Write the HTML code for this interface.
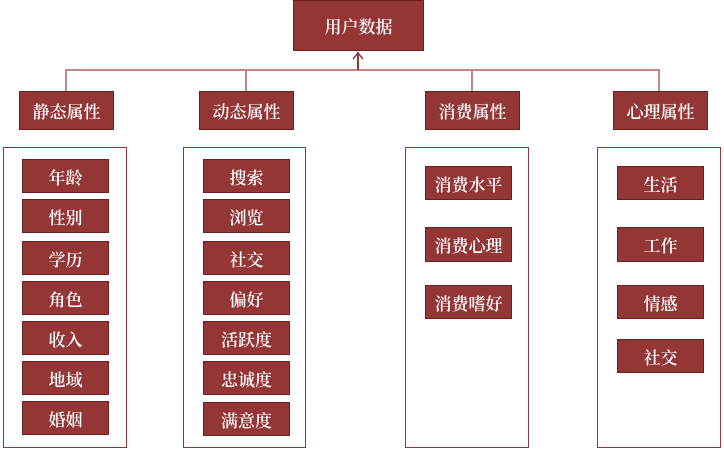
<!DOCTYPE html>
<html><head><meta charset="utf-8"><style>
body{margin:0;width:724px;height:455px;background:#fff;position:relative;overflow:hidden;font-family:"Liberation Serif","Noto Serif CJK SC",serif}
.b{position:absolute;background:#943636;border:1px solid #6a2020;box-sizing:border-box;color:#fff;font-size:17px;font-weight:600;display:flex;align-items:center;justify-content:center}
.c{position:absolute;border:1px solid #943636;box-sizing:border-box}
.l{position:absolute;background:#c08888}
</style></head><body>
<div class="b" style="left:293px;top:0;width:131px;height:51px">用户数据</div>
<div class="l" style="left:66px;top:69px;width:594px;height:2px"></div>
<div class="l" style="left:65px;top:69px;width:2px;height:22px"></div>
<div class="l" style="left:245px;top:69px;width:2px;height:22px"></div>
<div class="l" style="left:471px;top:69px;width:2px;height:22px"></div>
<div class="l" style="left:658px;top:69px;width:2px;height:22px"></div>
<div class="l" style="left:357px;top:52px;width:2px;height:18px;background:#943636"></div>
<svg style="position:absolute;left:350px;top:50px" width="16" height="12"><polyline points="3,9 8,3 13,9" fill="none" stroke="#943636" stroke-width="1.5"/></svg>
<div class="b" style="left:19px;top:91px;width:95px;height:39px">静态属性</div>
<div class="b" style="left:199px;top:91px;width:95px;height:39px">动态属性</div>
<div class="b" style="left:425px;top:91px;width:95px;height:39px">消费属性</div>
<div class="b" style="left:613px;top:91px;width:95px;height:39px">心理属性</div>
<div class="c" style="left:3px;top:147px;width:124px;height:301px"></div>
<div class="c" style="left:183px;top:147px;width:123px;height:301px"></div>
<div class="c" style="left:405px;top:147px;width:124px;height:301px"></div>
<div class="c" style="left:597px;top:147px;width:124px;height:301px"></div>
<div class="b" style="left:22px;top:159px;width:87px;height:34px">年龄</div>
<div class="b" style="left:22px;top:199px;width:87px;height:34px">性别</div>
<div class="b" style="left:22px;top:241px;width:87px;height:34px">学历</div>
<div class="b" style="left:22px;top:281px;width:87px;height:34px">角色</div>
<div class="b" style="left:22px;top:321px;width:87px;height:34px">收入</div>
<div class="b" style="left:22px;top:361px;width:87px;height:34px">地域</div>
<div class="b" style="left:22px;top:401px;width:87px;height:34px">婚姻</div>
<div class="b" style="left:203px;top:159px;width:87px;height:34px">搜索</div>
<div class="b" style="left:203px;top:199px;width:87px;height:34px">浏览</div>
<div class="b" style="left:203px;top:241px;width:87px;height:34px">社交</div>
<div class="b" style="left:203px;top:281px;width:87px;height:34px">偏好</div>
<div class="b" style="left:203px;top:321px;width:87px;height:34px">活跃度</div>
<div class="b" style="left:203px;top:361px;width:87px;height:34px">忠诚度</div>
<div class="b" style="left:203px;top:402px;width:87px;height:34px">满意度</div>
<div class="b" style="left:425px;top:166px;width:87px;height:34px">消费水平</div>
<div class="b" style="left:425px;top:227px;width:87px;height:35px">消费心理</div>
<div class="b" style="left:425px;top:285px;width:87px;height:34px">消费嗜好</div>
<div class="b" style="left:617px;top:166px;width:87px;height:34px">生活</div>
<div class="b" style="left:617px;top:227px;width:87px;height:35px">工作</div>
<div class="b" style="left:617px;top:285px;width:87px;height:34px">情感</div>
<div class="b" style="left:617px;top:339px;width:87px;height:34px">社交</div>
</body></html>
